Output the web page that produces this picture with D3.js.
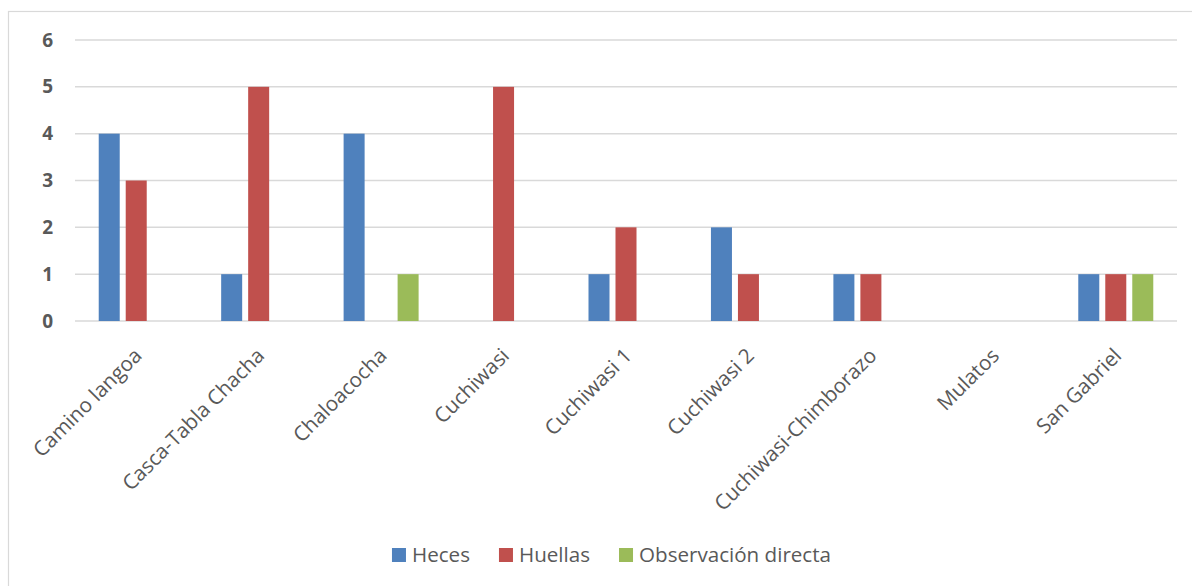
<!DOCTYPE html>
<html>
<head>
<meta charset="utf-8">
<script src="https://cdn.jsdelivr.net/npm/d3@7"></script>
<style>
  html, body { margin: 0; padding: 0; background: #fff; }
  svg { display: block; font-family: "Open Sans", sans-serif; }
</style>
</head>
<body>
<svg id="chart" width="1192" height="586"></svg>
<script>
const categories = [
  'Camino langoa', 'Casca-Tabla Chacha', 'Chaloacocha', 'Cuchiwasi',
  'Cuchiwasi 1', 'Cuchiwasi 2', 'Cuchiwasi-Chimborazo', 'Mulatos', 'San Gabriel'
];
const seriesNames = ['Heces', 'Huellas', 'Observación directa'];
const heces     = [4, 1, 4, 0, 1, 2, 1, 0, 1];
const huellas   = [3, 5, 0, 5, 2, 1, 1, 0, 1];
const observ    = [0, 0, 1, 0, 0, 0, 0, 0, 1];
const yTicks    = [0, 1, 2, 3, 4, 5, 6];
const colors    = ['#4f81bd', '#c0504d', '#9bbb59'];

const seriesValues = [heces, huellas, observ];

const svg = d3.select('#chart');

// marco del gráfico
svg.append('rect')
  .attr('x', 8.5).attr('y', 11.5)
  .attr('width', 1200).attr('height', 600)
  .attr('fill', '#fff')
  .attr('stroke', '#d9d9d9')
  .attr('stroke-width', 1.2);

const plot = { left: 75, right: 1177, top: 40, bottom: 321 };

const x0 = d3.scaleBand()
  .domain(categories)
  .range([plot.left, plot.right])
  .padding(0);

const x1 = d3.scaleBand()
  .domain(seriesNames)
  .range([-37.5, 37.5])
  .paddingInner(0.222)
  .paddingOuter(0);

const y = d3.scaleLinear()
  .domain([0, 6])
  .range([plot.bottom, plot.top]);

// líneas de cuadrícula
svg.append('g')
  .selectAll('line')
  .data(yTicks)
  .join('line')
    .attr('x1', plot.left).attr('x2', plot.right)
    .attr('y1', d => y(d)).attr('y2', d => y(d))
    .attr('stroke', '#d9d9d9')
    .attr('stroke-width', 1.5);

// eje Y
const yAxis = svg.append('g')
  .attr('transform', 'translate(53,0)')
  .call(d3.axisLeft(y).tickValues(yTicks).tickSize(0).tickPadding(0).tickFormat(d3.format('d')));
yAxis.select('.domain').remove();
yAxis.selectAll('text')
  .attr('font-family', '"Open Sans", sans-serif')
  .attr('font-size', 19)
  .attr('font-weight', 'bold')
  .attr('fill', '#595959');

// barras
const rows = categories.map((c, i) => ({
  cat: c,
  values: seriesNames.map((s, j) => ({ series: s, value: seriesValues[j][i], color: colors[j] }))
}));

const groups = svg.append('g')
  .selectAll('g')
  .data(rows)
  .join('g')
    .attr('transform', d => `translate(${x0(d.cat) + x0.bandwidth() / 2},0)`);

groups.selectAll('rect')
  .data(d => d.values.filter(v => v.value > 0))
  .join('rect')
    .attr('x', d => x1(d.series))
    .attr('width', x1.bandwidth())
    .attr('y', d => y(d.value))
    .attr('height', d => y(0) - y(d.value))
    .attr('fill', d => d.color);

// etiquetas del eje X
svg.append('g')
  .selectAll('text')
  .data(categories)
  .join('text')
    .attr('transform', d => `translate(${x0(d) + x0.bandwidth() / 2 + 7},357) rotate(-45)`)
    .attr('text-anchor', 'end')
    .attr('font-size', 20.6)
    .attr('fill', '#595959')
    .text(d => d);

// leyenda
const legend = svg.append('g');
const items = legend.selectAll('g')
  .data(seriesNames)
  .join('g');

items.append('rect')
  .attr('width', 14).attr('height', 14)
  .attr('y', -14)
  .attr('fill', (d, i) => colors[i]);

items.append('text')
  .attr('x', 20)
  .attr('y', 0)
  .attr('font-size', 20.6)
  .attr('fill', '#595959')
  .text(d => d);

let offset = 0;
items.each(function () {
  const w = d3.select(this).select('text').node().getComputedTextLength();
  d3.select(this).attr('transform', `translate(${offset},0)`);
  offset += 20 + w + 29;
});
const legendW = offset - 29;
legend.attr('transform', `translate(${611.5 - legendW / 2},562)`);
</script>
</body>
</html>
